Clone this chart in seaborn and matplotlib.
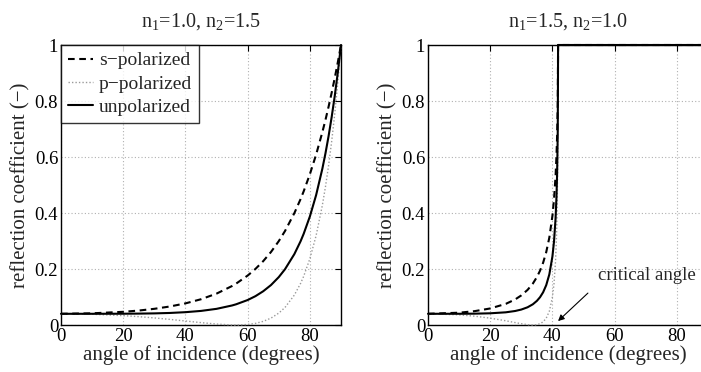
import matplotlib
matplotlib.use("Agg")
import matplotlib.pyplot as plt
import seaborn as sns
import pandas as pd

# ---- data ----
angles_left = [0, 10, 20, 25, 30, 35, 40, 45, 50, 55, 56.3, 60, 62.5, 65, 67.5, 70, 72, 75,
               77, 78, 80, 82, 84, 85, 86, 87, 88, 89, 90]
s_left = [0.040, 0.0417, 0.0471, 0.0516, 0.0578, 0.0661, 0.0772, 0.0920, 0.1121, 0.1393,
          0.1479, 0.1766, 0.2003, 0.2281, 0.2608, 0.2996, 0.3356, 0.3994, 0.4495, 0.4773,
          0.5387, 0.6085, 0.6884, 0.7322, 0.7792, 0.8294, 0.8826, 0.9396, 1.0]
p_left = [0.040, 0.0384, 0.0334, 0.0298, 0.0253, 0.0200, 0.0143, 0.0085, 0.0033, 0.0002,
          0.0, 0.0018, 0.0058, 0.0130, 0.0246, 0.0425, 0.0627, 0.1068, 0.1483, 0.1739,
          0.2369, 0.3192, 0.4272, 0.4931, 0.5687, 0.6557, 0.7548, 0.8688, 1.0]
u_left = [0.040, 0.0400, 0.0403, 0.0407, 0.0415, 0.0430, 0.0458, 0.0503, 0.0577, 0.0698,
          0.0740, 0.0892, 0.1030, 0.1206, 0.1427, 0.1711, 0.1992, 0.2531, 0.2989, 0.3256,
          0.3878, 0.4639, 0.5578, 0.6127, 0.6740, 0.7426, 0.8187, 0.9042, 1.0]

angles_right = [0, 10, 15, 20, 25, 28, 30, 32, 33.7, 35, 36, 37, 38, 39, 40, 40.5, 41, 41.3,
                41.5, 41.7, 41.78, 41.81, 50, 60, 70, 80, 90]
s_right = [0.040, 0.0439, 0.0495, 0.0591, 0.0755, 0.0912, 0.1058, 0.1254, 0.1479, 0.1712,
           0.1937, 0.2223, 0.2602, 0.3122, 0.3905, 0.4484, 0.5313, 0.6045, 0.6744, 0.7889,
           0.9231, 1, 1, 1, 1, 1, 1]
p_right = [0.040, 0.0363, 0.0315, 0.0244, 0.0151, 0.0087, 0.0046, 0.0013, 0.0, 0.0012,
           0.0045, 0.0113, 0.0243, 0.0492, 0.1001, 0.1473, 0.2288, 0.3140, 0.4071, 0.5849,
           0.8352, 1, 1, 1, 1, 1, 1]
u_right = [0.040, 0.0401, 0.0405, 0.0418, 0.0453, 0.0500, 0.0552, 0.0633, 0.0740, 0.0862,
           0.0991, 0.1168, 0.1423, 0.1807, 0.2453, 0.2979, 0.3801, 0.4592, 0.5408, 0.6869,
           0.8792, 1, 1, 1, 1, 1, 1]

titles = ["n$_1$=1.0, n$_2$=1.5", "n$_1$=1.5, n$_2$=1.0"]
series_names = ["s\u2212polarized", "p\u2212polarized", "unpolarized"]
x_ticks = [0, 20, 40, 60, 80]
y_ticks = [0, 0.2, 0.4, 0.6, 0.8, 1]
y_tick_labels = ["0", "0.2", "0.4", "0.6", "0.8", "1"]
annotation_text = "critical angle"

sns.set_theme(style="white")
plt.rcParams["font.family"] = ["Liberation Serif", "DejaVu Serif"]
plt.rcParams["mathtext.fontset"] = "custom"
plt.rcParams["mathtext.rm"] = "Liberation Serif"
plt.rcParams["mathtext.it"] = "Liberation Serif:italic"

fig = plt.figure(figsize=(7.01, 3.72), dpi=100)
W, H = 701, 372
ax_l = fig.add_axes([61 / W, (H - 325) / H, 280 / W, 280 / H])
ax_r = fig.add_axes([428 / W, (H - 325) / H, 280 / W, 280 / H])

styles = [
    dict(color="black", linestyle=(0, (3.2, 2.2)), linewidth=1.5),
    dict(color="#9a9a9a", linestyle=(0, (1, 1.5)), linewidth=1.0),
    dict(color="black", linestyle="-", linewidth=1.5),
]

for ax, ang, data, title in [
    (ax_l, angles_left, [s_left, p_left, u_left], titles[0]),
    (ax_r, angles_right, [s_right, p_right, u_right], titles[1]),
]:
    for name, vals, st in zip(series_names, data, styles):
        df = pd.DataFrame({"angle": ang, "R": vals})
        sns.lineplot(data=df, x="angle", y="R", ax=ax, estimator=None, sort=False,
                     label=name, clip_on=False, zorder=3, **st)
    ax.set_xlim(0, 90)
    ax.set_ylim(0, 1)
    ax.set_xticks(x_ticks)
    ax.set_yticks(y_ticks)
    ax.set_yticklabels(y_tick_labels)
    ax.grid(True, color="#b0b0b0", linestyle=(0, (1, 2)), linewidth=0.8)
    ax.tick_params(direction="in", length=4, width=0.8, top=True, right=True,
                   labelsize=13.5, pad=2, colors="black")
    for sp in ax.spines.values():
        sp.set_color("black")
        sp.set_linewidth(1.0)
    ax.set_xlabel("angle of incidence (degrees)", fontsize=15, labelpad=0)
    ax.set_ylabel("reflection coefficient (\u2212)", fontsize=15, labelpad=3)
    ax.set_title(title, fontsize=14.5, pad=13)

ax_r.get_legend().remove()
leg = ax_l.legend(loc="upper left", fontsize=14, frameon=True, fancybox=False,
                  borderaxespad=0.0, handlelength=1.3, handletextpad=0.3,
                  borderpad=0.35, labelspacing=0.3)
leg.get_frame().set_edgecolor("black")
leg.get_frame().set_linewidth(1.0)
leg.set_zorder(5)

ax_r.text(54.7, 0.16, annotation_text, fontsize=13.5, ha="left", va="baseline")
ax_r.annotate("", xy=(41.8, 0.014), xytext=(51.4, 0.114),
              arrowprops=dict(arrowstyle="-|>", color="black", lw=0.8,
                              mutation_scale=9, shrinkA=0, shrinkB=0))

fig.savefig("out.png", dpi=100)
